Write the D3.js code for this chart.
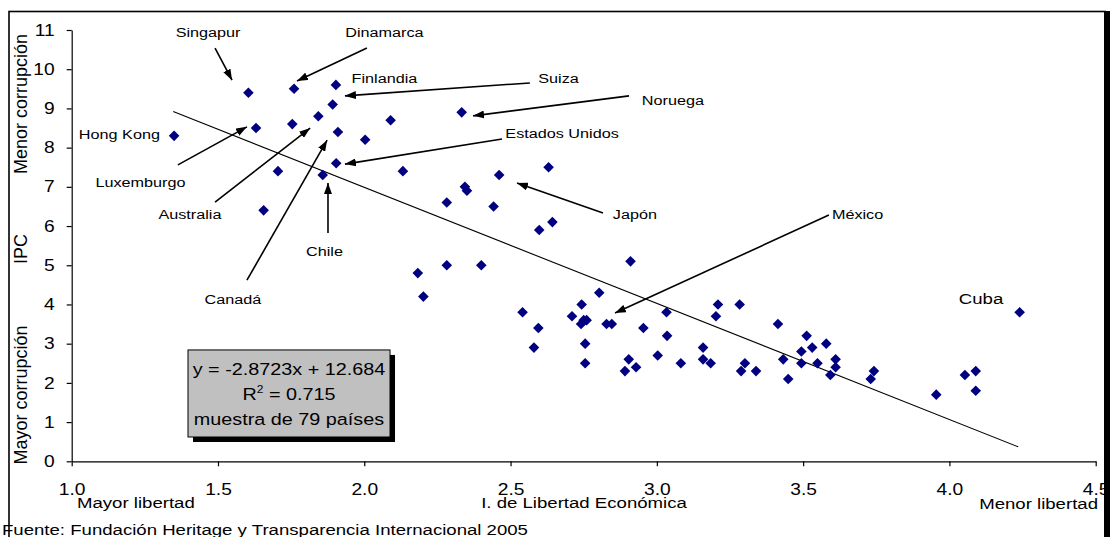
<!DOCTYPE html>
<html><head><meta charset="utf-8">
<script src="https://cdn.jsdelivr.net/npm/d3@7"></script>
<style>
body{margin:0;background:#fff}
svg{display:block}
text{font-family:"Liberation Sans",Arial,sans-serif;fill:#000}
</style>
</head><body>
<svg id="chart" width="1110" height="537"></svg>
<script>
// ---- data ----
const libertad = [1.604,1.760,1.903,1.892,1.843,1.754,1.630,1.350,1.910,2.003,
  1.904,1.705,1.858,1.656,2.090,2.333,2.132,2.630,2.461,2.344,
  2.351,2.282,2.442,2.643,2.598,2.910,2.282,2.400,2.183,2.202,
  2.803,2.743,3.209,2.541,3.033,2.710,3.202,2.760,2.741,2.828,
  2.846,2.595,2.954,3.035,2.755,2.580,3.158,3.003,2.904,3.158,
  2.755,3.082,3.184,2.929,2.891,3.283,3.414,3.512,3.494,3.531,
  3.579,3.301,3.288,3.339,3.432,3.494,3.549,3.611,3.611,3.593,
  3.449,3.742,3.731,3.955,4.053,4.090,4.090,4.240,2.750];
const ipc = [9.4,9.5,9.6,9.1,8.8,8.6,8.5,8.3,8.4,8.2,
  7.6,7.4,7.3,6.4,8.7,8.9,7.4,7.5,7.3,7.0,
  6.9,6.6,6.5,6.1,5.9,5.1,5.0,5.0,4.8,4.2,
  4.3,4.0,4.0,3.8,3.8,3.7,3.7,3.6,3.5,3.5,
  3.5,3.4,3.4,3.2,3.0,2.9,2.9,2.7,2.6,2.6,
  2.5,2.5,2.5,2.4,2.3,4.0,3.5,3.2,2.8,2.9,
  3.0,2.5,2.3,2.3,2.6,2.5,2.5,2.6,2.4,2.2,
  2.1,2.3,2.1,1.7,2.2,2.3,1.8,3.8,3.6];
const xTicks = [1.0,1.5,2.0,2.5,3.0,3.5,4.0,4.5];
const yTicks = [0,1,2,3,4,5,6,7,8,9,10,11];
const trendX = [1.347, 4.235];
const trendY = [8.92, 0.37];
const eqLines = ["y = -2.8723x + 12.684", "R", " = 0.715", "muestra de 79 países"];
const xTitles = ["Mayor libertad","I. de Libertad Económica","Menor libertad"];
const yTitles = ["Menor corrupción","IPC","Mayor corrupción"];
const source = "Fuente: Fundación Heritage y Transparencia Internacional 2005";

// annotations: label (x,y baseline in data units), arrow from -> to (data units)
const labels = ["Singapur","Dinamarca","Finlandia","Suiza","Noruega","Estados Unidos","Japón","México","Hong Kong","Luxemburgo","Australia","Chile","Canadá","Cuba"];
const labelX = [1.466,2.069,2.069,2.664,3.055,2.676,2.925,3.686,1.163,1.235,1.404,1.864,1.551,4.108];
const labelY = [10.82,10.82,9.65,9.65,9.09,8.25,6.18,6.18,8.22,7.00,6.18,5.24,4.01,4.01];
const arrowFrom = [[1.490,10.54],[2.009,10.54],null,[2.566,9.65],[2.905,9.32],[2.471,8.22],[2.816,6.33],[3.588,6.28],null,[1.363,7.56],[1.490,6.61],[1.876,5.82],[1.599,4.62],null];
const arrowTo   = [[1.548,9.72],[1.770,9.70],null,[1.934,9.32],[2.372,8.81],[1.934,7.58],[2.522,7.10],[2.857,3.78],null,[1.599,8.53],[1.815,8.50],[1.876,7.10],[1.873,8.19],null];

// ---- drawing ----
const svg = d3.select("#chart");
const SX = 1.2; // horizontal glyph stretch seen in the reference

const x = d3.scaleLinear().domain([1,4.5]).range([71.7,1095.7]);
const y = d3.scaleLinear().domain([0,11]).range([461.3,30]);

const defs = svg.append("defs");
defs.append("marker").attr("id","ah").attr("markerUnits","userSpaceOnUse")
  .attr("markerWidth",11).attr("markerHeight",8).attr("refX",11).attr("refY",4)
  .attr("orient","auto")
  .append("path").attr("d","M0,0 L11,4 L0,8 Z").attr("fill","#000");

// axes
const xAxis = d3.axisBottom(x).tickValues(xTicks).tickFormat(d3.format(".1f"))
  .tickSizeInner(5).tickSizeOuter(0).tickPadding(17);
const gx = svg.append("g").attr("transform",`translate(0,${y(0)})`).call(xAxis);
gx.selectAll("text").attr("font-size",16).attr("transform",`scale(${SX},1)`)
  .attr("x", 0);
gx.selectAll("text").each(function(d){ d3.select(this).attr("x", 0); });

const yAxis = d3.axisLeft(y).tickValues(yTicks).tickFormat(d3.format("d"))
  .tickSizeInner(5).tickSizeOuter(0).tickPadding(12);
const gy = svg.append("g").attr("transform",`translate(${x(1)},0)`).call(yAxis);
gy.selectAll("text").attr("font-size",16)
  .attr("x", -17/SX).attr("transform",`scale(${SX},1)`);

svg.selectAll(".domain, .tick line").attr("stroke","#000").attr("stroke-width",1.2);
svg.selectAll(".tick text").attr("fill","#000").style("font-family",'"Liberation Sans",Arial,sans-serif');

// trend line
svg.append("line")
  .attr("x1",x(trendX[0])).attr("y1",y(trendY[0]))
  .attr("x2",x(trendX[1])).attr("y2",y(trendY[1]))
  .attr("stroke","#000").attr("stroke-width",1.1);

// points
const pts = libertad.map((v,i)=>({x:v,y:ipc[i]}));
const R = 5.3;
svg.append("g").selectAll("path").data(pts).join("path")
  .attr("transform",d=>`translate(${x(d.x)},${y(d.y)})`)
  .attr("d",`M0,${-R}L${R},0L0,${R}L${-R},0Z`)
  .attr("fill","#000080");

// arrows
labels.forEach((l,i)=>{
  if(!arrowFrom[i]) return;
  svg.append("line")
    .attr("x1",x(arrowFrom[i][0])).attr("y1",y(arrowFrom[i][1]))
    .attr("x2",x(arrowTo[i][0])).attr("y2",y(arrowTo[i][1]))
    .attr("stroke","#000").attr("stroke-width",1.6)
    .attr("marker-end","url(#ah)");
});

// labels
function stext(px,py,str,size,anchor){
  return svg.append("text")
    .attr("transform",`translate(${px},${py}) scale(${SX},1)`)
    .attr("font-size",size).attr("text-anchor",anchor||"start").text(str);
}
labels.forEach((l,i)=>{
  stext(x(labelX[i]),y(labelY[i]),l,l==="Cuba"?15.5:13.5,"middle");
});

// equation box
const bx0 = x(1.3975), bx1 = x(2.088), by0 = y(2.84), by1 = y(0.62);
svg.append("rect").attr("x",bx0+5).attr("y",by0+5).attr("width",bx1-bx0).attr("height",by1-by0).attr("fill","#000");
svg.append("rect").attr("x",bx0).attr("y",by0).attr("width",bx1-bx0).attr("height",by1-by0)
  .attr("fill","#c0c0c0").attr("stroke","#000").attr("stroke-width",1);
const bcx = (bx0+bx1)/2;
stext(bcx, by0+25, eqLines[0], 16.5, "middle");
const r2 = stext(bcx, by0+50, "", 16.5, "middle");
r2.append("tspan").text(eqLines[1]);
r2.append("tspan").attr("font-size",10).attr("dy",-7).text("2");
r2.append("tspan").attr("dy",7).text(eqLines[2]);
stext(bcx, by0+75, eqLines[3], 16.5, "middle");

// axis titles
stext(77, 508, xTitles[0], 15.5, "start");
stext(584, 508, xTitles[1], 15.5, "middle");
stext(1098, 509, xTitles[2], 15.5, "end");
stext(2, 535, source, 15.5, "start");

const yTitleY = [104, 249, 395];
yTitles.forEach((t,i)=>{
  svg.append("text").attr("transform",`translate(27,${yTitleY[i]}) rotate(-90)`)
    .attr("font-size",18).attr("text-anchor","middle").text(t);
});

// outer frame
svg.append("rect").attr("x",9).attr("y",11.5).attr("width",1096).attr("height",600)
  .attr("fill","none").attr("stroke","#000").attr("stroke-width",1.6);
svg.append("rect").attr("x",1104).attr("y",11).attr("width",6).attr("height",530).attr("fill","#000");
</script>
</body></html>
